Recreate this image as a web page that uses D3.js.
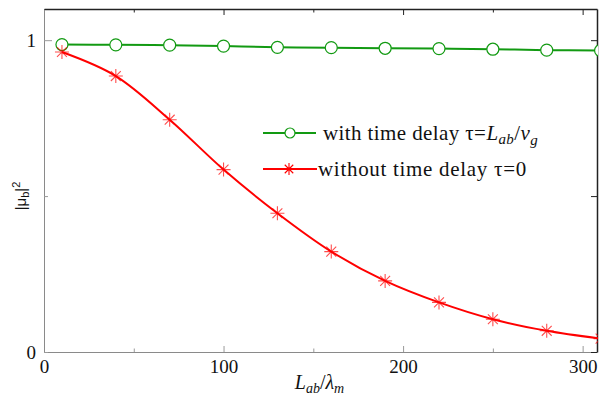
<!DOCTYPE html>
<html>
<head>
<meta charset="utf-8">
<script src="https://cdn.jsdelivr.net/npm/d3@7"></script>
<style>
  body { margin: 0; background: #fff; }
</style>
</head>
<body>
<svg></svg>
<script>
// data
const xValues = [10, 40, 70, 100, 130, 160, 190, 220, 250, 280, 310];
const withDelay = [0.986, 0.985, 0.984, 0.981, 0.977, 0.976, 0.974, 0.973, 0.971, 0.968, 0.967];
const withoutDelay = [0.962, 0.885, 0.745, 0.585, 0.445, 0.322, 0.228, 0.159, 0.105, 0.068, 0.043];
const xTicks = [0, 50, 100, 150, 200, 250, 300];
const xTickLabels = ['0', '', '100', '', '200', '', '300'];
const yTicks = [0, 0.5, 1];
const yTickLabels = ['0', '', '1'];

const serif = "'Liberation Serif', 'Times New Roman', Tinos, 'DejaVu Serif', serif";

const width = 603, height = 399;
const margin = {top: 9, right: 6, bottom: 47, left: 44};
const innerWidth = width - margin.left - margin.right;
const innerHeight = height - margin.top - margin.bottom;

const green = '#129a12';
const red = '#ff0000';

const svg = d3.select('svg')
  .attr('width', width)
  .attr('height', height)
  .style('font-family', serif);

const xScale = d3.scaleLinear().domain([0, 308]).range([0, innerWidth]);
const yScale = d3.scaleLinear().domain([0, 1.1]).range([innerHeight, 0]);

const g = svg.append('g')
  .attr('transform', `translate(${margin.left}, ${margin.top})`);

svg.append('defs').append('clipPath').attr('id', 'plot-clip')
  .append('rect').attr('x', -1).attr('width', innerWidth + 2).attr('height', innerHeight);

// axes, ticks pointing inward
const xLabel = d => xTickLabels[xTicks.indexOf(d)];
const yLabel = d => yTickLabels[yTicks.indexOf(d)];

const axBottom = g.append('g')
  .attr('transform', `translate(0, ${innerHeight})`)
  .call(d3.axisBottom(xScale).tickValues(xTicks).tickFormat(xLabel)
    .tickSize(-6).tickSizeOuter(0).tickPadding(8));
axBottom.selectAll('.tick line').attr('y2', d => d % 100 === 0 ? -6 : -3.5);

const axTop = g.append('g')
  .call(d3.axisTop(xScale).tickValues(xTicks).tickFormat('')
    .tickSize(-6).tickSizeOuter(0));
axTop.selectAll('.tick line').attr('y2', d => d % 100 === 0 ? 6 : 3.5);

const axLeft = g.append('g')
  .call(d3.axisLeft(yScale).tickValues(yTicks).tickFormat(yLabel)
    .tickSize(-8).tickSizeOuter(0).tickPadding(8));
axLeft.selectAll('.tick line').attr('x2', d => d === 1 ? 8 : 4);

const axRight = g.append('g')
  .attr('transform', `translate(${innerWidth}, 0)`)
  .call(d3.axisRight(yScale).tickValues(yTicks).tickFormat('')
    .tickSize(-6).tickSizeOuter(0));

// drop the empty labels
g.selectAll('.tick text').filter(function() { return this.textContent === ''; }).remove();

[axBottom, axLeft].forEach(a => {
  a.select('.domain').attr('stroke', '#8a8a8a');
  a.selectAll('.tick line').attr('stroke', '#9a9a9a');
});
[axTop, axRight].forEach(a => {
  a.select('.domain').attr('stroke', '#222').attr('stroke-width', 1.5);
  a.selectAll('.tick line').attr('stroke', '#222');
});
g.selectAll('.tick text')
  .style('font-family', serif)
  .attr('font-size', 19)
  .attr('fill', '#111');

// curves
const plot = g.append('g').attr('clip-path', 'url(#plot-clip)');

const lineGen = d3.line()
  .x(d => xScale(d[0]))
  .y(d => yScale(d[1]))
  .curve(d3.curveCatmullRom);

const greenData = xValues.map((x, i) => [x, withDelay[i]]);
const redData = xValues.map((x, i) => [x, withoutDelay[i]]);

plot.append('path')
  .attr('d', lineGen(greenData))
  .attr('fill', 'none').attr('stroke', green).attr('stroke-width', 2);

plot.append('path')
  .attr('d', lineGen(redData))
  .attr('fill', 'none').attr('stroke', red).attr('stroke-width', 2);

const asterisk = r => {
  const k = r * 0.707;
  return `M${-r},0H${r}M0,${-r}V${r}M${-k},${-k}L${k},${k}M${-k},${k}L${k},${-k}`;
};

plot.selectAll('.circ').data(greenData).join('circle')
  .attr('class', 'circ')
  .attr('cx', d => xScale(d[0]))
  .attr('cy', d => yScale(d[1]))
  .attr('r', 6)
  .attr('fill', '#fff')
  .attr('stroke', green)
  .attr('stroke-width', 1.2);

plot.selectAll('.ast').data(redData).join('path')
  .attr('class', 'ast')
  .attr('transform', d => `translate(${xScale(d[0])}, ${yScale(d[1])})`)
  .attr('d', asterisk(7))
  .attr('stroke', red)
  .attr('stroke-opacity', 0.7)
  .attr('stroke-width', 1.1);

// legend
const legend = svg.append('g');
legend.append('line')
  .attr('x1', 263).attr('x2', 316).attr('y1', 133).attr('y2', 133)
  .attr('stroke', green).attr('stroke-width', 2);
legend.append('circle')
  .attr('cx', 290).attr('cy', 133).attr('r', 5)
  .attr('fill', '#fff').attr('stroke', green).attr('stroke-width', 1.2);
legend.append('line')
  .attr('x1', 263).attr('x2', 317).attr('y1', 169).attr('y2', 169)
  .attr('stroke', red).attr('stroke-width', 2);
legend.append('path')
  .attr('transform', 'translate(289, 169)')
  .attr('d', asterisk(6))
  .attr('stroke', red).attr('stroke-width', 1.1);

const t1 = legend.append('text')
  .attr('x', 323).attr('y', 140)
  .attr('font-size', 21).attr('letter-spacing', 0.4).attr('fill', '#111');
t1.append('tspan').text('with time delay τ=');
t1.append('tspan').attr('font-style', 'italic').text('L');
t1.append('tspan').attr('font-style', 'italic').attr('font-size', 15).attr('dy', 4).text('ab');
t1.append('tspan').attr('dy', -4).text('/');
t1.append('tspan').attr('font-style', 'italic').text('v');
t1.append('tspan').attr('font-style', 'italic').attr('font-size', 15).attr('dy', 5).text('g');

legend.append('text')
  .attr('x', 318).attr('y', 176)
  .attr('font-size', 21).attr('letter-spacing', 0.7).attr('fill', '#111')
  .text('without time delay τ=0');

// axis titles
const xt = svg.append('text')
  .attr('x', margin.left + innerWidth / 2 - 1).attr('y', 389)
  .attr('text-anchor', 'middle')
  .attr('font-size', 20).attr('fill', '#111');
xt.append('tspan').attr('font-style', 'italic').text('L');
xt.append('tspan').attr('font-style', 'italic').attr('font-size', 14).attr('dy', 4).text('ab');
xt.append('tspan').attr('dy', -4).text('/');
xt.append('tspan').attr('font-style', 'italic').text('λ');
xt.append('tspan').attr('font-style', 'italic').attr('font-size', 14).attr('dy', 4).text('m');

const yt = svg.append('text')
  .attr('transform', 'translate(26, 196) rotate(-90)')
  .attr('text-anchor', 'middle')
  .style('font-family', "'Liberation Sans', Arial, sans-serif")
  .attr('font-size', 15).attr('fill', '#111');
yt.append('tspan').text('|μ');
yt.append('tspan').attr('font-size', 11).attr('dy', 3).text('b');
yt.append('tspan').attr('dy', -3).text('|');
yt.append('tspan').attr('font-size', 11).attr('dy', -6).text('2');
</script>
</body>
</html>
